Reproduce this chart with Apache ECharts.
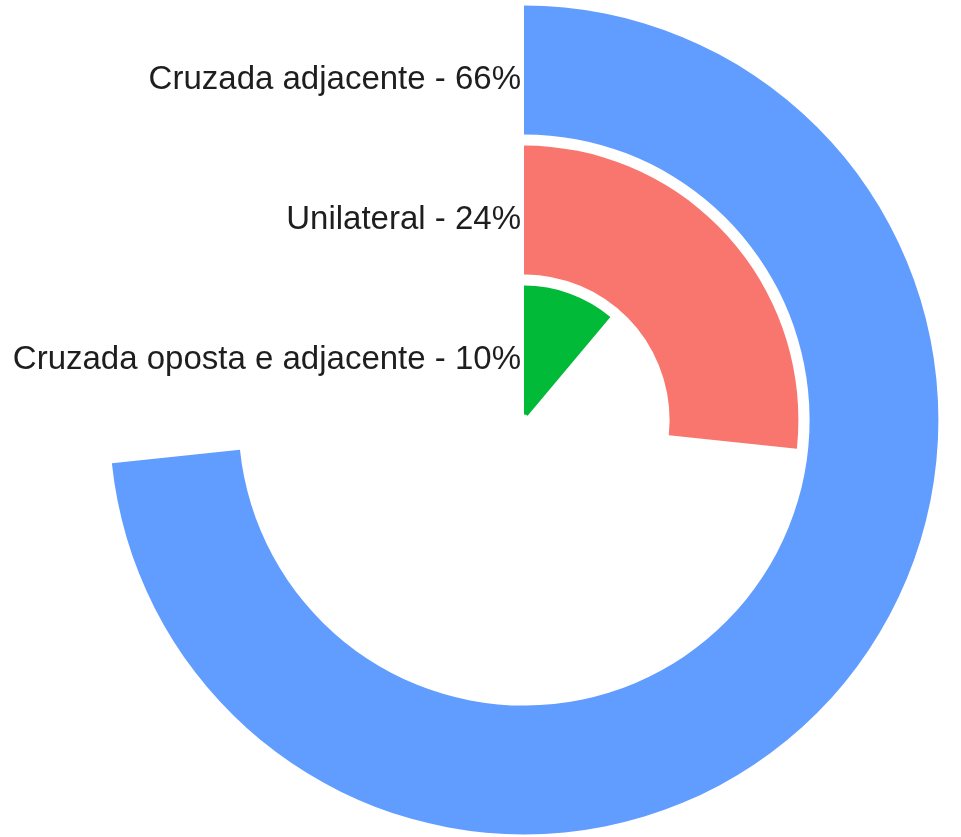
<!DOCTYPE html>
<html>
<head>
<meta charset="utf-8">
<script src="https://cdn.jsdelivr.net/npm/echarts@6/dist/echarts.min.js"></script>
<style>
html,body{margin:0;padding:0;background:#fff;}
#chart{width:961px;height:837px;}
</style>
</head>
<body>
<div id="chart"></div>
<script>
// Data (from centre outward)
const categories = ["Cruzada oposta e adjacente", "Unilateral", "Cruzada adjacente"];
const values = [10, 24, 66];
const colors = ["#00BA38", "#F8766D", "#619CFF"];
const angleMax = 90;

const chart = echarts.init(document.getElementById('chart'));
chart.setOption({
  backgroundColor: '#ffffff',
  animation: false,
  polar: { center: [524, 420], radius: [0, 420] },
  angleAxis: {
    type: 'value', min: 0, max: angleMax, startAngle: 90, clockwise: true,
    axisLine: { show: false }, axisTick: { show: false }, axisLabel: { show: false },
    splitLine: { show: false }
  },
  radiusAxis: {
    type: 'category', data: categories,
    axisLine: { show: false }, axisTick: { show: false }, splitLine: { show: false },
    axisLabel: {
      show: true, interval: 0, hideOverlap: false, margin: 3,
      color: '#1e1e1e',
      formatter: function (v, i) { return '{a|' + v + ' - ' + values[i] + '%}'; },
      rich: {
        a: {
          fontFamily: 'Liberation Sans, Arial, sans-serif', fontSize: 33, color: '#1e1e1e',
          padding: [20, 0, 0, 0]
        }
      }
    }
  },
  series: [{
    type: 'bar', coordinateSystem: 'polar',
    barCategoryGap: '8%',
    data: values.map((v, i) => ({ value: v, itemStyle: { color: colors[i] } }))
  }]
});
</script>
</body>
</html>
